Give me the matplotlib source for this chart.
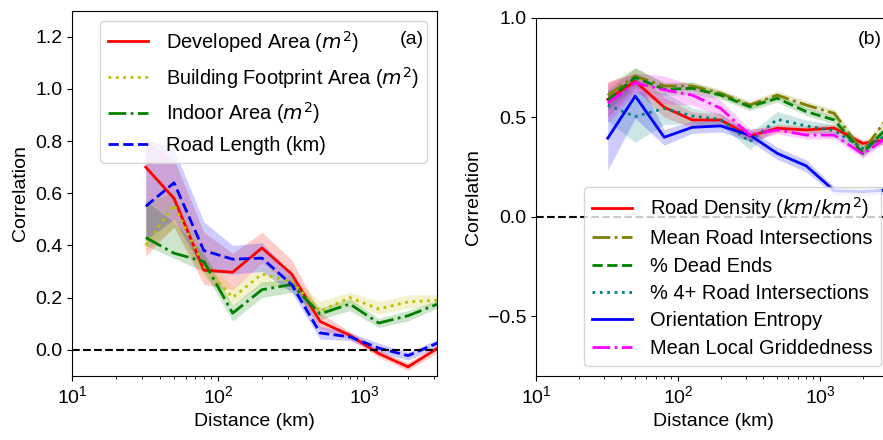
import numpy as np
import matplotlib
matplotlib.use("Agg")
import matplotlib.pyplot as plt

plt.rcParams['font.family'] = ['Liberation Sans', 'DejaVu Sans']
plt.rcParams['font.size'] = 14

# distance bins (km), shared by both panels
dist = [32, 50, 80, 126, 200, 320, 500, 800, 1260, 2000, 3200]

# panel (a): correlation and band (lower, upper)
dev_area = [0.70, 0.58, 0.305, 0.297, 0.39, 0.29, 0.108, 0.055, -0.015, -0.066, 0.006]
dev_lo = [0.36, 0.47, 0.25, 0.23, 0.33, 0.25, 0.08, 0.04, -0.03, -0.08, -0.01]
dev_hi = [0.80, 0.73, 0.45, 0.37, 0.45, 0.345, 0.14, 0.07, 0.0, -0.05, 0.02]

bld_area = [0.40, 0.556, 0.32, 0.20, 0.29, 0.26, 0.147, 0.20, 0.156, 0.183, 0.19]
bld_lo = [0.38, 0.47, 0.28, 0.17, 0.25, 0.23, 0.13, 0.18, 0.135, 0.16, 0.17]
bld_hi = [0.57, 0.60, 0.36, 0.24, 0.32, 0.28, 0.185, 0.22, 0.185, 0.21, 0.21]

indoor_area = [0.43, 0.37, 0.338, 0.14, 0.23, 0.25, 0.137, 0.175, 0.102, 0.13, 0.175]
indoor_lo = [0.40, 0.35, 0.30, 0.11, 0.20, 0.22, 0.115, 0.15, 0.085, 0.11, 0.16]
indoor_hi = [0.57, 0.49, 0.37, 0.17, 0.26, 0.27, 0.16, 0.195, 0.12, 0.15, 0.19]

road_len = [0.55, 0.64, 0.38, 0.347, 0.351, 0.249, 0.064, 0.049, 0.006, -0.023, 0.026]
road_lo = [0.42, 0.50, 0.30, 0.29, 0.30, 0.22, 0.04, 0.035, -0.01, -0.04, 0.01]
road_hi = [0.81, 0.77, 0.49, 0.40, 0.41, 0.29, 0.09, 0.065, 0.025, -0.01, 0.04]

# panel (b): correlation and half width of band
road_dens = [0.59, 0.68, 0.55, 0.486, 0.486, 0.405, 0.444, 0.436, 0.445, 0.368, 0.39]
road_dens_err = [0.09, 0.04, 0.05, 0.04, 0.03, 0.03, 0.02, 0.02, 0.02, 0.02, 0.02]

mean_inter = [0.61, 0.707, 0.657, 0.657, 0.62, 0.561, 0.611, 0.561, 0.519, 0.327, 0.527]
mean_inter_err = [0.06, 0.04, 0.02, 0.02, 0.02, 0.02, 0.02, 0.02, 0.02, 0.02, 0.02]

dead_ends = [0.586, 0.70, 0.64, 0.645, 0.611, 0.553, 0.595, 0.528, 0.486, 0.318, 0.472]
dead_ends_err = [0.05, 0.05, 0.03, 0.03, 0.02, 0.02, 0.02, 0.02, 0.02, 0.02, 0.02]

four_way = [0.561, 0.503, 0.544, 0.506, 0.489, 0.377, 0.489, 0.456, 0.432, 0.343, 0.423]
four_way_err = [0.08, 0.13, 0.08, 0.04, 0.03, 0.04, 0.04, 0.03, 0.03, 0.03, 0.03]

orient_ent = [0.394, 0.606, 0.399, 0.449, 0.456, 0.41, 0.318, 0.255, 0.13, 0.125, 0.135]
orient_ent_err = [0.16, 0.11, 0.04, 0.03, 0.03, 0.03, 0.03, 0.03, 0.02, 0.02, 0.02]

gridded = [0.57, 0.673, 0.637, 0.611, 0.544, 0.41, 0.436, 0.41, 0.41, 0.315, 0.414]
gridded_err = [0.10, 0.05, 0.07, 0.05, 0.04, 0.03, 0.02, 0.02, 0.02, 0.02, 0.02]

fig = plt.figure(figsize=(8.83, 4.4), dpi=100)
ax1 = fig.add_axes([0.0815, 0.1461, 0.4134, 0.8295])
ax2 = fig.add_axes([0.607, 0.1461, 0.402, 0.8136])

x = np.array(dist)

# left panel
left = [
    (dev_area, dev_lo, dev_hi, 'r', '-', r'Developed Area ($m^2$)'),
    (bld_area, bld_lo, bld_hi, 'y', ':', r'Building Footprint Area ($m^2$)'),
    (indoor_area, indoor_lo, indoor_hi, 'g', '-.', r'Indoor Area ($m^2$)'),
    (road_len, road_lo, road_hi, 'b', '--', 'Road Length (km)'),
]
for y, lo, hi, c, ls, lab in left:
    ax1.fill_between(x, lo, hi, color=c, alpha=0.2, linewidth=0)
    ax1.plot(x, y, color=c, linestyle=ls, linewidth=2, label=lab)

ax1.axhline(0, color='k', linestyle='--', linewidth=1.5)
ax1.set_xscale('log')
ax1.set_xlim(10, 3160)
ax1.set_ylim(-0.1, 1.3)
ax1.set_yticks([0.0, 0.2, 0.4, 0.6, 0.8, 1.0, 1.2])
ax1.set_xlabel('Distance (km)')
ax1.set_ylabel('Correlation')
ax1.legend(loc='upper right', fontsize=14.4, handletextpad=0.9)
ax1.text(0.965, 0.92, '(a)', transform=ax1.transAxes, ha='right', va='center', zorder=10)

# right panel
right = [
    (road_dens, road_dens_err, 'r', '-', r'Road Density ($km/km^2$)'),
    (mean_inter, mean_inter_err, 'olive', '-.', 'Mean Road Intersections'),
    (dead_ends, dead_ends_err, 'g', '--', '% Dead Ends'),
    (four_way, four_way_err, 'teal', ':', '% 4+ Road Intersections'),
    (orient_ent, orient_ent_err, 'b', '-', 'Orientation Entropy'),
    (gridded, gridded_err, 'magenta', '-.', 'Mean Local Griddedness'),
]
for y, err, c, ls, lab in right:
    y = np.array(y)
    err = np.array(err)
    ax2.fill_between(x, y - err, y + err, color=c, alpha=0.2, linewidth=0)
    ax2.plot(x, y, color=c, linestyle=ls, linewidth=2, label=lab)

ax2.axhline(0, color='k', linestyle='--', linewidth=1.5)
ax2.set_xscale('log')
ax2.set_xlim(10, 3160)
ax2.set_ylim(-0.8, 1.0)
ax2.set_yticks([-0.5, 0.0, 0.5, 1.0])
ax2.set_xlabel('Distance (km)')
ax2.set_ylabel('Correlation')
ax2.legend(loc='lower right', fontsize=14.4, handletextpad=0.9, labelspacing=0.42)
ax2.text(0.974, 0.938, '(b)', transform=ax2.transAxes, ha='right', va='center', zorder=10)

fig.savefig('out.png', dpi=100)
